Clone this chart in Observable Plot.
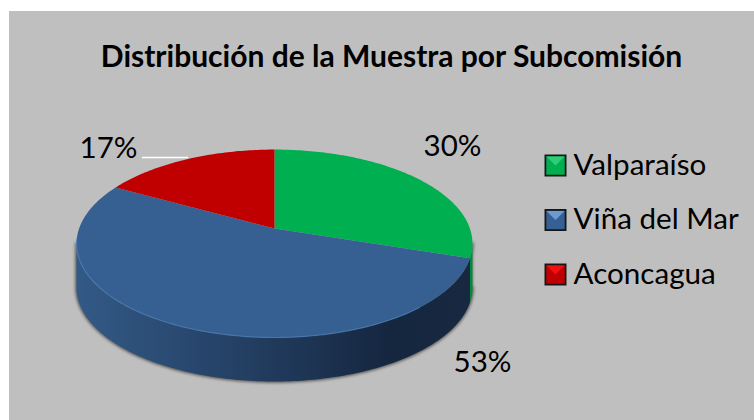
<!DOCTYPE html>
<html lang="es">
<head>
<meta charset="utf-8">
<script src="https://cdn.jsdelivr.net/npm/d3@7"></script>
<script src="https://cdn.jsdelivr.net/npm/@observablehq/plot@0.6"></script>
<style>
html,body{margin:0;padding:0;background:#fff;}
#panel{position:absolute;left:9px;top:11px;width:745px;height:409px;background:#bfbfbf;overflow:hidden;}
svg{display:block;}
</style>
</head>
<body>
<div id="panel"></div>
<script>
const titleText = "Distribución de la Muestra por Subcomisión";
const categories = ["Valparaíso", "Viña del Mar", "Aconcagua"];
const shares = [30, 53, 17];
const colors = ["#00b050", "#366092", "#c00000"];
const lightColors = ["#30cc78", "#6d9ad0", "#f01010"];
const darkColors = ["#00a850", "#366092", "#c00000"];

// Pie geometry (perspective view of a disc) in page pixels
const cx = 274, cy = 243, R = 195.4, A = 93.96, B = -15, C = -0.16, depth = 44;
const project = (theta, drop = 0) => {
  const u = Math.sin(theta), v = -Math.cos(theta), w = 1 + C * v;
  return {x: cx + R * u / w, y: cy + (A * v + B) / w + drop};
};
const arcPts = (a, b, drop = 0) => {
  const n = Math.max(2, Math.ceil(Math.abs(b - a) * 60));
  return d3.range(n + 1).map(i => project(a + (b - a) * i / n, drop));
};
const pie = d3.pie().sort(null)(shares);
const faces = pie.flatMap((s, i) =>
  [{x: cx, y: cy + B}, ...arcPts(s.startAngle, s.endAngle)].map(p => ({...p, name: categories[i]}))
);
// Visible wall runs between the two horizontal extremes of the disc
const thetaR = Math.acos(C), thetaL = 2 * Math.PI - thetaR;
const wall = (a, b) => [...arcPts(a, b), ...arcPts(b, a, depth)];
const wallGreen = wall(thetaR, pie[0].endAngle);
const wallBlue = wall(pie[1].startAngle, thetaL);
const rim = arcPts(thetaR + 0.7, thetaL + 0.05);
const shadow = [...arcPts(thetaR, thetaL, depth), ...arcPts(thetaL, thetaR)];

// Layout of the texts and legend
const labelLayout = [
  {text: "30%", x: 452, y: 146},
  {text: "53%", x: 482, y: 362},
  {text: "17%", x: 108, y: 148}
];
const leader = [{x: 142, y: 157}, {x: 187, y: 157}];
const legendX = 555, legendY = 165, legendStep = 54.5, half = 9;
const legendRows = categories.map((name, i) => ({name, x: legendX, y: legendY + i * legendStep, i}));
const swatchTops = legendRows.flatMap(r => [
  {x: r.x - half, y: r.y - half, name: r.name},
  {x: r.x + half, y: r.y - half, name: r.name},
  {x: r.x, y: r.y, name: r.name}
]);
const font = "Lato, 'Open Sans', sans-serif";

const defs = () => {
  const d = d3.create("svg:defs");
  const g = d.append("linearGradient").attr("id", "wallGrad").attr("x1", 0).attr("x2", 1).attr("y1", 0).attr("y2", 0);
  [[0, "#325a86"], [0.25, "#2a4a72"], [0.55, "#1f3757"], [0.8, "#15263f"], [1, "#17283f"]].forEach(([o, c]) =>
    g.append("stop").attr("offset", o).attr("stop-color", c));
  return d.node();
};

const chart = Plot.plot({
  width: 745, height: 409,
  marginTop: 0, marginRight: 0, marginBottom: 0, marginLeft: 0,
  style: {background: "transparent", fontFamily: font},
  x: {domain: [9, 754], range: [0, 745], axis: null},
  y: {domain: [11, 420], range: [0, 409], axis: null},
  color: {domain: categories, range: colors},
  marks: [
    defs,
    Plot.line(shadow, {x: "x", y: "y", fill: "#555", stroke: "#555", strokeWidth: 2.5, imageFilter: "blur(1.5px)"}),
    Plot.line(wallBlue, {x: "x", y: "y", fill: "url(#wallGrad)", stroke: "none"}),
    Plot.line(wallGreen, {x: "x", y: "y", fill: "#008a3e", stroke: "none"}),
    Plot.line(faces, {x: "x", y: "y", z: "name", fill: "name", stroke: "none"}),
    Plot.line(rim, {x: "x", y: "y", stroke: "#4f7fb5", strokeWidth: 1.2, strokeOpacity: 0.75, imageFilter: "blur(0.6px)"}),
    Plot.line(leader, {x: "x", y: "y", stroke: "#fff", strokeWidth: 1.5}),
    Plot.text(labelLayout, {x: "x", y: "y", text: "text", fontSize: 29.5, fill: "#000"}),
    Plot.text([titleText], {x: () => 391, y: () => 57, text: d => d, fontSize: 30, fontWeight: 700, fill: "#000"}),
    Plot.dot(legendRows, {x: "x", y: "y", symbol: "square", r: 12.4, fill: "#161616", stroke: "none"}),
    Plot.dot(legendRows, {x: "x", y: "y", symbol: "square", r: 10.4, fill: "name", stroke: "none"}),
    Plot.line(swatchTops, {x: "x", y: "y", z: "name", fill: d => lightColors[categories.indexOf(d.name)], stroke: "none"}),
    Plot.text(legendRows, {x: () => 573, y: "y", text: "name", textAnchor: "start", fontSize: 29.6, fill: "#000"})
  ]
});
document.getElementById("panel").append(chart);
</script>
</body>
</html>
